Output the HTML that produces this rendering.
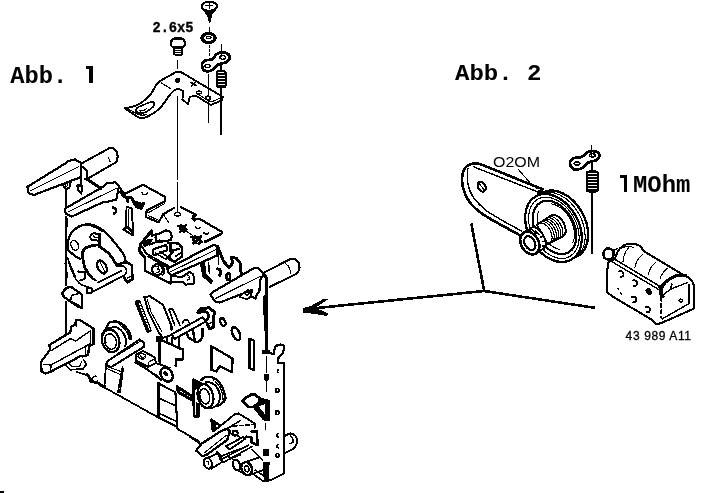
<!DOCTYPE html>
<html>
<head>
<meta charset="utf-8">
<title>Abb. 1 / Abb. 2</title>
<style>
html,body{margin:0;padding:0;background:#fff;}
body{width:709px;height:493px;overflow:hidden;font-family:"Liberation Sans",sans-serif;}
svg{display:block;position:absolute;left:0;top:0;}
.m{font-family:"Liberation Mono",monospace;font-weight:bold;fill:#000;}
.s{font-family:"Liberation Sans",sans-serif;fill:#000;}
g.l{fill:none;stroke:#000;stroke-width:1.7;stroke-linecap:round;stroke-linejoin:round;}
.t{stroke-width:1.1;}
.k{stroke-width:2.2;}
.kk{stroke-width:3;}
.f{fill:#000;}
.w{fill:#fff;}
</style>
</head>
<body>
<svg shape-rendering="crispEdges" width="709" height="493" viewBox="0 0 709 493">
<rect x="0" y="0" width="709" height="493" fill="#fff"/>
<rect x="0" y="491" width="4" height="2" fill="#000"/>
<!-- ===== TEXT ===== -->
<defs><filter id="idf" x="0" y="0" width="709" height="493" filterUnits="userSpaceOnUse"><feOffset dx="0" dy="0"/></filter></defs>
<g id="text" filter="url(#idf)">
<text class="m" x="10.3" y="82.8" font-size="23.8" textLength="57" lengthAdjust="spacingAndGlyphs">Abb.</text>
<path d="M89.4,65.6 H93.2 V82.8 H89.4 Z M85.8,65.6 H89.4 V68.8 H85.8 Z" fill="#000"/>
<text class="m" x="455" y="80" font-size="22.4" textLength="86.5" lengthAdjust="spacingAndGlyphs">Abb. 2</text>
<text class="m" x="152.4" y="31.8" font-size="14.8" textLength="41.2" lengthAdjust="spacingAndGlyphs" stroke="#000" stroke-width="0.35">2.6x5</text>
<text class="m" x="633" y="191.6" font-size="23.4" textLength="57.4" lengthAdjust="spacingAndGlyphs">MOhm</text>
<path d="M623.8,174.8 H627.4 V191.6 H623.8 Z M619.8,174.8 H623.8 V178.2 H619.8 Z" fill="#000"/>
<text class="s" x="493" y="166.6" font-size="14" textLength="47" lengthAdjust="spacingAndGlyphs">O2OM</text>
<text class="s" x="625.6" y="340" font-size="12" textLength="65.4" lengthAdjust="spacing" stroke="#000" stroke-width="0.3">43 989 A11</text>
</g>
<!-- ===== ABB 1 TOP PARTS ===== -->
<g class="l" id="topparts">
<!--TOP_S-->
<!-- top self-tapping screw -->
<ellipse cx="209.3" cy="6.2" rx="7.8" ry="4.6" stroke-width="2.16"/>
<path d="M206,5.5 L212.5,5.5 M209.3,3.5 L209.3,8" stroke-width="1.56"/>
<path d="M201.8,7.5 L206.6,13.5 M216.8,7.5 L212.2,13.5" stroke-width="1.92"/>
<path class="f" d="M206.4,12.5 L212.4,12.5 L211.2,17 L209.7,22.8 L208,17 Z" stroke-width="1.2"/>
<!-- dash between screw and washer -->
<path d="M209.5,27.5 L209.5,32.5" stroke-width="1.44"/>
<!-- washer -->
<ellipse cx="208.6" cy="38" rx="6.6" ry="4.5" stroke-width="3.36"/>
<ellipse cx="208.8" cy="37.6" rx="2.4" ry="1.1" stroke-width="1.2"/>
<!-- dotted below washer -->
<path d="M209.2,45.5 L209.2,60" stroke-width="1.2" stroke-dasharray="2 2.2"/>
<!-- small screw 2.6x5 -->
<path d="M171.2,45.5 C169.8,40.5 173.5,37.6 178,37.6 C182.5,37.6 186,40.5 184.8,45.5 C184,48.3 172,48.3 171.2,45.5 Z" stroke-width="2.16"/>
<path d="M175,39.5 L181,39.5" stroke-width="1.2"/>
<path d="M174.2,48.2 L174.2,54.3 Q178.4,56.6 182.4,54.3 L182.4,48.2" stroke-width="1.92"/>
<path d="M174.2,50.6 L182.4,50.6 M174.2,52.8 L182.4,52.8" stroke-width="1.2"/>
<path d="M177.6,61 L177.6,68" stroke-width="1.56"/>
<!-- solder lug -->
<path d="M202,66.2 C201.2,62.3 205,59.6 209.2,60 C213,60.2 214.2,57.5 215.8,55 C218,52 224,51.4 227.6,53.6 C231,56 230,61 225.6,62.6 C221,63.8 218.2,63.4 216.2,66.2 C214,70 209,72 205.4,71 C203,70.2 202.2,68.2 202,66.2 Z" stroke-width="2.76"/>
<ellipse cx="207.6" cy="66" rx="2.8" ry="1.6" stroke-width="1.32"/>
<ellipse cx="222.6" cy="57.4" rx="2.8" ry="1.8" stroke-width="1.32"/>
<!-- wire through lug -->
<path d="M221.4,44.7 L221.4,56" stroke-width="1.68"/>
<!-- resistor -->
<rect x="217" y="71" width="8.6" height="16.4" rx="2" stroke-width="2"/>
<path class="f" stroke="none" d="M217,73 h9 v2 h-9 Z M217,76 h9 v2 h-9 Z M217,79 h9 v2 h-9 Z M217,82 h9 v2 h-9 Z M217,85 h9 v1.6 h-9 Z"/>
<path d="M221.2,63 L221.2,71.5 M221,87.3 L221,134.5" stroke-width="1.8"/>
<!-- bracket -->
<path d="M176.9,71.6 L159.5,81.2 C155,85 154,89 152.2,92.2 C148,98 143,102 137.5,105 C133,107 128,108 124.7,108.3 L137.5,117 C140,118 144,118 146.7,117 C151,115 156,112 159.5,108.7 C164,104 167,98 170.5,94 C173,91 175,89.5 177.8,88.5 L183.3,91.3 L182.4,99.5 L188,104 L189.8,96.8 L196,95.8 L210.8,105 L221.8,100.4 L222.8,96.8 L181.5,72.4 Z" stroke-width="1.92"/>
<path class="t" d="M128,109 L138.5,114.5 C141,115.3 144,115.3 146.5,114.5"/>
<path class="t" d="M161.3,83 L170.5,88.5"/>
<path class="t" d="M196.5,93.5 L211,102 L222.5,97.2"/>
<path d="M139,106.8 L150,102.2 C154,101 155.6,104 153,107 L146.5,111.8 C142,114 137,113.4 136,111 C135.6,109 137,107.6 139,106.8 Z" stroke-width="1.56"/>
<path class="t" d="M139.5,110.8 C142,111.5 145,110 147,108.2"/>
<circle class="f" cx="177.8" cy="80.3" r="2" stroke-width="1.2"/>
<path d="M191,82.5 L196,85.5 M195.5,82 L191.5,86" stroke-width="2.04"/>
<ellipse cx="199" cy="92.5" rx="2.3" ry="1.5" stroke-width="1.32"/>
<ellipse cx="208" cy="98" rx="2.4" ry="1.9" stroke-width="1.44"/>
<!-- guide lines -->
<path d="M177.7,96.8 L177.7,179 M177.7,182.5 L177.7,211.5" stroke-width="1.56"/>
<path d="M208.2,74.5 L208.2,95 M208.2,101.5 L208.2,123" stroke-width="1.2"/>
<!--TOP_E-->
</g>
<!-- ===== CHASSIS ===== -->
<g class="l" id="chassis">
<!--CH1_S-->
<!-- lever 1 (upper-left) + roller -->
<path d="M82.4,163 L110,147.8 M115.4,162.6 L88.8,178" stroke-width="2"/>
<path d="M110,147.8 C112,147.6 113.4,148.2 114.5,149.3 C116,150.6 117,152 117.3,153.8 C117.7,155.6 117.7,157.6 117.3,159.3 C117,160.6 116.4,161.6 115.4,162.6" stroke-width="2.1"/>
<path class="t" d="M108.1,157.5 C109.2,158.6 110,160 110,161.5"/>
<path d="M27.4,186.8 L65.4,163.4 L68.7,160.8 L75.1,159.5 L81.2,163.1 L81.2,177 L79.3,177.7 L64,183.5 L33.8,195 L28.6,193 Z" stroke-width="2.2"/>
<path class="t" d="M31,190.6 L78.5,166.8"/>
<path d="M62.6,184 L64.4,187.6 L66.8,188.9 L69.4,187.6 L70.8,181.4" stroke-width="1.9"/>
<ellipse cx="66.4" cy="184.6" rx="1.5" ry="1.7" stroke-width="1.2"/>
<path d="M81.2,177 L81.2,185.4 M77.5,185 L77.8,190 L81.2,193.6 L82.4,186.3 Z" stroke-width="2.2"/>
<path d="M82.6,166.6 L84.2,168.6 L87.3,171 L87.3,179 L84.8,179" stroke-width="2"/>
<path d="M87,179.2 L100.8,188.4" stroke-width="2.88"/>
<!-- lever 2 -->
<path d="M65,208.6 L104.4,186 L107.2,183.2 L115.4,182.3 L119,186 L116.2,199.6 L105.3,202.4 L104.4,201.6 L71.6,216.6 L65.6,213.4 Z" stroke-width="2.16"/>
<path class="t" d="M68.6,211.6 L116,188.6"/>
<path d="M66,188.7 L66,208" stroke-width="1.8"/>
<!-- chassis left edge -->
<path d="M65.8,216.6 L65.8,285.5 M65.8,302 L65.8,335.6" stroke-width="1.8"/>
<path d="M66.4,219 L66.4,226" stroke-width="2.88"/>
<!-- top plate 1 -->
<path d="M119.4,187.5 L124.7,194 L143,184.8 L165,196.8 L165,201.3 L146.7,210.5 L145.8,217 L158.6,222.4 L163.2,214.2 L174.2,207.8" stroke-width="2.16"/>
<path class="t" d="M149,212.4 L164.5,203.6 M148.2,215.6 L159.7,220.7"/>
<path class="t" d="M163.2,214.2 L168.7,222.4"/>
<path d="M120.6,191.6 L123.6,196.4 L127,197.4 L128,202" stroke-width="3"/>
<path d="M142,192.6 C143,195.4 146,195.4 147.4,192.8" stroke-width="1.56"/>
<path d="M128,197 L132,198 L133.4,201.6 L136.4,206.4 L141,208.4 L143.4,203.4 M134,202 L141,204" stroke-width="3"/>
<path class="f" d="M133.6,201.6 L139,202.4 L142,205 L140.6,208.6 L136,207 Z" stroke-width="1"/>
<path d="M113,207.6 C116.6,208.2 117.2,212.2 114,213.6" stroke-width="2.6"/>
<!-- slot -->
<path d="M126.5,206.5 L131.8,208.5 L133.3,235.5 L123.4,229.5 L126.4,226.5 Z" stroke-width="1.92"/>
<path d="M123.6,229.6 L127.5,227 L132.6,232.5" stroke-width="2.64"/>
<path class="t" d="M128.6,209.5 L128.9,226"/>
<!-- top plate 2 -->
<path d="M180.6,206.8 L196.2,215 L192.5,218.8 L199.8,219 L222.1,232 L220.9,234.2" stroke-width="2.2"/>
<path d="M220.9,234.2 L205,241.8" stroke-width="2.8"/>
<path d="M193.4,216.6 L194.4,220" stroke-width="3.12"/>
<ellipse cx="177.5" cy="214.3" rx="3" ry="1.7" stroke-width="1.44"/>
<path d="M178.6,226 L186.4,229.4 M186,225 L180,232 M180.6,225.4 L184.4,231.6" stroke-width="2.6"/>
<ellipse class="f" cx="182.6" cy="228.4" rx="3.4" ry="2.8" transform="rotate(25 182.6 228.4)" stroke-width="1"/>
<path d="M195.4,226.8 C196.4,229 199,229 200,227.2 M203.6,232.4 C204.6,234.6 207.2,234.6 208.4,232.8" stroke-width="1.56"/>
<path d="M191.6,237 L201.6,242 M201,236.4 L193.4,243.4 M194.6,236.4 L199.4,243.6" stroke-width="2.6"/>
<ellipse class="f" cx="196.6" cy="239.8" rx="4.6" ry="3.4" transform="rotate(20 196.6 239.8)" stroke-width="1"/>
<path class="w" stroke="none" d="M195,238.6 h1 v1 h-1 Z M198,240.6 h1 v1 h-1 Z M196.6,241.6 h1 v1 h-1 Z"/>
<path class="t" d="M185.4,230.4 L192.6,235.4"/>
<!-- flywheel -->
<path d="M80.4,258.8 C76.5,257.4 73.5,255.2 71,252.6 C68.6,250.4 67.8,250 67.7,249.3 C67,245 67.6,241 69,237.8 C70.4,234 72.6,231 75.3,229 C78,226.6 81.5,225 85.5,224.5 C89,224.2 92.4,224.6 95.6,225.8 C99.5,227.4 102.8,229.8 105.8,232.8 C109.6,236.4 113,240.4 116,244.2 C118.8,247.6 121.4,251 123.5,254.3 C124.6,256.2 125.2,258.4 125.5,260.7" stroke-width="2.28"/>
<path class="t" d="M90.5,225.8 C95,227 99,229 102,231.5"/>
<path d="M91.8,277 C89.5,275.2 87.8,273.2 86.7,270.8 C85,268.4 84,266 83.6,263.2 C83,259.6 82.4,256 82.3,253 C83,251 84,249.4 85.5,248 C88,246.6 90.5,246 93,245.5 C95,245.2 97.2,245 99.4,244.8 L99.4,234 M99.4,246.7 C102.6,248.6 105.6,250.6 108.3,253 C110.8,255.6 112.8,258.6 114.7,262 L117.2,265.8" stroke-width="2.76"/>
<path d="M97.4,234.2 C94,232.4 90.6,233.6 90.2,236.4 C90,238.8 91.6,240.2 93.8,240 L97.8,240.6" stroke-width="2"/>
<path d="M93.6,236 C94.4,237.2 95.6,237.6 97,237.4" stroke-width="1.3"/>
<ellipse cx="74.7" cy="245.3" rx="3.6" ry="5.2" transform="rotate(-22 74.7 245.3)" stroke-width="1.44"/>
<ellipse cx="102" cy="267" rx="4.2" ry="7" transform="rotate(-28 102 267)" stroke-width="2.28"/>
<path class="t" d="M100.4,262.8 L104.6,271"/>
<path d="M67.7,258.2 L75.3,277 M65.2,263.2 L67.7,277" stroke-width="1.56"/>
<!--CH1_E-->
<!--CH2_S-->
<!-- plate 2 right part continues -->
<!-- head block -->
<path d="M151.5,231 L146,237.6 L140.3,244.8 L139.6,251.4 L144.9,257.3" stroke-width="3"/>
<path d="M151.5,231 L152.1,235.5 L156.8,234.2" stroke-width="2.4"/>
<path d="M141.5,246 L146.2,253.4" stroke-width="2"/>
<path class="f" d="M143,244 L148.6,239.4 L152,239.6 L150,242.6 L145.4,246.4 Z" stroke-width="1.4"/>
<!-- cylinder 1 -->
<path class="w" d="M156.1,234.9 L166,230.3 L170,231.6 L171.9,236.2 L170.6,240.2 L158.1,242.1 C155.6,240.4 155.2,237.2 156.1,234.9 Z" stroke-width="2.2"/>
<!-- cylinder 2 -->
<path class="w" d="M153.5,249.4 L166,244.8 L167.3,250 L154.8,255.3 C152.6,254 152.2,251.2 153.5,249.4 Z" stroke-width="2.2"/>
<path d="M149.5,244.8 L159.6,240.4" stroke-width="2"/>
<!-- box -->
<path d="M168,242.8 L178.5,243.5 L181.8,247.4 L181.8,256.6 L174.6,261.9 L167.3,258" stroke-width="2.4"/>
<path d="M170.6,244.8 L170.6,251.4 L178.5,248.8 M173.2,251.4 L168,258" stroke-width="2.4"/>
<path d="M176,256 L180.6,253" stroke-width="1.6"/>
<!-- front face -->
<path d="M146.2,253.4 L170.6,267.2 M148.2,256.6 L168,267.6" stroke-width="1.7"/>
<path d="M144.9,257.3 L144.9,270.5 L170.6,283.7 L171.3,277.1" stroke-width="2.3"/>
<path d="M155,253 L166.6,259.6 M160,252 L171,258.6" stroke-width="1.4"/>
<!-- screw on head -->
<circle cx="157.4" cy="269.6" r="5.4" stroke-width="2.2"/>
<path d="M155.2,266.8 C157.6,265.8 159.6,267.4 157.8,269.2 C160.2,269.8 160,272.6 156.6,272.6" stroke-width="1.5"/>
<path d="M163.2,266.6 C164.8,269.4 164.6,273 162.8,275" stroke-width="1.5"/>
<!-- centre lever -->
<path class="w" d="M167.4,268.8 L213.7,244.7 L216.9,246 L217.5,255.4 L171.8,275.2 L168.2,272.6 Z" stroke-width="2.28"/>
<path class="t" d="M170,272 L216.4,249.4"/>
<!-- tab under head -->
<path d="M170.5,275.8 L182,277 L189.6,272 L193.4,274.5 L194,283.4 L185.8,284.7 L183,281.6 L169.3,282" stroke-width="2.04"/>
<path d="M187.4,275.4 C189.8,275.4 190,277.2 188.4,277.6 C190.2,278 190,280 187.6,280" stroke-width="1.32"/>
<!-- post under centre lever -->
<path class="f" d="M200.6,263.9 L204.4,262.6 L205.7,274 L212,280.4 L211.4,283.6 L203.2,276.6 Z" stroke-width="1.4"/>
<path d="M208.6,263 L209.4,273.6" stroke-width="1.6"/>
<!-- Y tab -->
<path d="M217.6,246.5 L221,255 L223.5,261.3 L229.2,267.7 L233,262.6 L231.1,257.5 L236.2,258.2 L240,262.6 L241.2,274" stroke-width="3"/>
<path d="M218.4,256 L218.6,264" stroke-width="1.6"/>
<path d="M217,269 C220.6,268.6 222,272.6 219.6,275.4" stroke-width="3"/>
<ellipse cx="228.2" cy="276.6" rx="1.8" ry="3.2" stroke-width="2.6"/>
<!-- right lever + roller -->
<path d="M264.8,272.2 L291.2,258.6 M296.6,273.8 L269.5,287" stroke-width="2"/>
<path d="M291.2,258.6 C293,258.4 294.6,258.8 295.9,259.8 C297.6,261 298.8,262.6 299.3,264.5 C299.7,266.4 299.6,268.2 299,269.9 C298.5,271.4 297.8,272.8 296.6,273.8" stroke-width="2.1"/>
<path class="t" d="M285.8,263.7 C287.6,265 289,266.6 289.6,268.4 C290.2,270 290.5,271.6 290.4,273"/>
<path class="w" d="M210.5,294.7 L213.6,291.6 L250.9,269.9 L254.7,267.6 L258.6,268.4 L264,273.8 L260.2,280 L259.4,290.9 L257,294 L255.5,298.6 L250.9,296.3 L252,290 L219.8,302.5 L215.2,301.7 Z" stroke-width="2.16"/>
<path class="t" d="M215.2,298.6 L261,276"/>
<path d="M240,297 L244.7,291.4 M240,297 L247,299.4 L251,296.4" stroke-width="1.68"/>
<ellipse cx="247.6" cy="292.6" rx="1.9" ry="2.6" transform="rotate(20 247.6 292.6)" stroke-width="1.44"/>
<!-- right edge vertical -->
<path d="M264,274.6 L266.6,278.4 L266.8,351" stroke-width="3.2"/>
<path d="M264.6,296 L264.8,330" stroke-width="2.4"/>
<!--CH2_E-->
<!--CH3_S-->
<!-- lines beside flywheel lower-left -->
<path d="M67.7,257.5 C68.6,262 70,266.4 71.5,270.2 C73,274 74.8,277.6 76.6,280.4 C78.6,283 80.8,284.8 83,285.5 L88,286.7" stroke-width="1.56"/>
<path d="M78.5,271.5 L85.5,272.1 C85.6,275 85,277.4 84.2,279.1 L80.4,280.4 M89.3,275.3 C91,277.4 93.2,279.2 95.6,280.4" stroke-width="2.16"/>
<!-- flywheel shaft + bushing -->
<path d="M98.2,282.3 L121,270.9 M90.5,293 L124.2,275.3" stroke-width="1.92"/>
<path d="M86.9,288.2 L91.6,288.2 L91.6,292.8 L86.9,292.8 Z" stroke-width="2.16"/>
<path d="M116,265.2 L126,262 L131.8,265.2 L132.4,279.1 L127.4,282.3 L124.2,277.8" stroke-width="2.64"/>
<path d="M118.5,266.5 C121,265 124.6,266 126,268.6 C127,271 126.4,273.4 125,274.6" stroke-width="1.92"/>
<path d="M127.6,278 L131.6,276" stroke-width="1.68"/>
<path d="M125.5,260.7 L126,262" stroke-width="1.92"/>
<!-- small bracket left -->
<path d="M62,293 L66.4,288 L70.9,286.7 L81.7,294.4 L82.3,307.7 L78.5,307 L70.2,301.3 L63.9,296.9 Z" stroke-width="2.4"/>
<path d="M71.5,295.6 L77.8,293.7 M71.5,295.6 L70.9,300 M72,301.6 L80.4,306.4" stroke-width="1.56"/>
<!-- lever 3 (left-bottom) -->
<path d="M66.5,302 L66.5,334.8" stroke-width="1.8"/>
<path d="M49.4,344.9 L64.9,335.6 L70.3,332.5 L71.1,327 L75,324.7 L76.5,320 L79.7,320 L93.6,328.6 L93.6,344.1 L89,346.5 L88.2,355 L82.8,356.5 L81.2,355.8 L50.2,372 L45.5,373.6 L41.6,371.3 L40.9,362 L50.2,349.6 Z" stroke-width="2.28"/>
<path d="M43.2,364.3 L51,365 L89.7,344 M51.7,350.3 L70.3,338.7 L75.8,341 L89,331.7 M51,365 L50.6,371.6" stroke-width="1.44"/>
<path class="t" d="M76.5,320 L76.5,326 M90.6,330.5 L90.6,343.6 M85.6,347.6 L85.2,354.6"/>
<path d="M65.7,365 L70.3,369.7 L82.8,369 L86.6,364.3 L83.5,359.7" stroke-width="1.8"/>
<path class="t" d="M68.6,362.8 L72,366.4 L80,366 L81.6,361.6"/>
<!-- chassis bottom edge left -->
<path d="M76.5,372 L87.4,375.2" stroke-width="1.68"/>
<path d="M87,374 L89.4,377.4 L90.5,381.4 L98.3,383 L100.6,385.4 L104.5,386" stroke-width="2.64"/>
<!-- pinch roller -->
<path d="M106.9,327 C107.6,325 108.6,323.4 109.6,322.5 C112,321.6 114.4,321.4 116.9,321.6 C119.6,322.4 122,323.8 124.2,325.7 C126.2,327.6 127.8,329.8 129.2,332.1 C130.2,334.4 130.8,336.8 131,339.4" stroke-width="2.4"/>
<path d="M119.6,324.8 C122.6,326.8 125,329.2 126.9,332.1 C128.2,334.4 129,336.8 129.2,339.4" stroke-width="1.2"/>
<path d="M108.7,328.9 C111.6,327.2 114.4,326.8 116.9,327.5 C120,328.8 122.4,331.4 124.2,334.8 C125.6,337.4 126.4,339.8 126.5,342.1 L125.1,345.8" stroke-width="2"/>
<path d="M101.8,334.8 L106.9,327 L108.7,328.9" stroke-width="2"/>
<ellipse cx="110.6" cy="340.8" rx="8.6" ry="11.6" transform="rotate(-16 110.6 340.8)" stroke-width="2.4"/>
<ellipse cx="110.5" cy="341.6" rx="5.8" ry="7.8" transform="rotate(-16 110.5 341.6)" stroke-width="1.5"/>
<path class="t" d="M105.6,339 L105.8,342.4 L107,342.6"/>
<!-- arm from pinch roller -->
<path class="w" d="M143.4,342.2 L139.4,339.5 L107.6,361.2 L106,364.3 L110.7,367.4 L144.4,346.5 Z" stroke-width="2.1"/>
<path class="t" d="M114,357.4 L141,340.8"/>
<path d="M106,364.3 L104.5,386 M123,369 L120,392" stroke-width="1.8"/>
<path class="t" d="M108,367 L122.6,372"/>
<!-- comb -->
<path d="M136.2,302 L147.8,331.4" stroke-width="3.2"/>
<path d="M140,301.4 L151.2,330.4" stroke-width="1.2"/>
<path d="M138.6,302.4 L150,331" stroke-width="2" stroke-dasharray="1 2" stroke-linecap="butt"/>
<path d="M135.4,301.4 L139.2,300.8 M147.4,331.8 L150.6,331" stroke-width="1.6"/>
<!-- blade -->
<path d="M144.4,297 L149.8,296.2 L163,304.7 L171.5,325.7 L171.5,330.3 M144.4,297 L148.3,311.7 L158.4,331.9 L161.5,335.8" stroke-width="2.04"/>
<path class="t" d="M147.5,300 L151,312 L161.5,331"/>
<path d="M168.4,309.4 L172.3,308.6 L175.4,314.8 L180,325.7 M169.2,310.2 L174.6,324.9" stroke-width="1.68"/>
<!-- shaft 2 -->
<path class="w" d="M171.5,334.4 L202.6,317.2 L206,321.4 L174.8,338.8 Z" stroke-width="2"/>
<path d="M157.4,337 L161.6,337 L161.6,341 L157.4,341 Z" stroke-width="2.88"/>
<path d="M161.6,338.4 L171.5,335" stroke-width="1.92"/>
<path d="M198,312.2 L200,309 L208.8,307.8 L214.2,311.7 L213.4,327.2 L209.6,328.8 L207.2,323.4" stroke-width="3"/>
<path d="M199.4,313 C202,310.4 206.6,311 208,313.4 C209,315.6 208.6,318 207.2,319.4" stroke-width="2.6"/>
<path d="M209.6,323.4 L213.2,321.6" stroke-width="1.56"/>
<path d="M182.4,323.4 L184,320.3 L187.8,320.3 L189,322.4" stroke-width="1.68"/>
<path d="M187,333.4 L188.4,337.6 L191.7,339.6 L195,341.6 L198,342 L200.6,340 L202.6,336.5 L202.6,328.8 M193,330.6 L195,341.6" stroke-width="2.4"/>
<!-- bracket under shaft2 -->
<path d="M159.4,338 L160,362.4" stroke-width="3"/>
<path d="M161,340.2 L173.6,345.4 L178.5,348.2 L179.3,338.1 M178.5,348.2 L183.2,349 L183.2,359.4 L176.2,359.4 L175.6,366" stroke-width="2.3"/>
<path d="M167,338 L167.6,343.6 M172,337.6 L172.4,345.6" stroke-width="1.8"/>
<!-- flag -->
<path d="M210.7,345.8 L232.7,358.7 L231.8,372.4 L219.8,366 L216.2,371.5 L210.7,369.7 Z" stroke-width="2.28"/>
<path class="t" d="M212.4,349 L212.4,369.4"/>
<!-- holes -->
<ellipse cx="222.8" cy="322" rx="2.4" ry="4" transform="rotate(-25 222.8 322)" stroke-width="2.3"/>
<ellipse cx="236" cy="333.6" rx="3.4" ry="7" transform="rotate(-25 236 333.6)" stroke-width="2.6"/>
<!-- slot right -->
<path d="M248.6,338.5 L253.8,340.4 L254.4,370.4 L249.2,368 Z" stroke-width="2"/>
<path d="M249.4,340 L249.8,367.4" stroke-width="3"/>
<!--CH3_E-->
<!--CH4_S-->
<!-- right edge: block, hook, dashed -->
<path d="M262.4,350.4 L269.4,350.4 L269.4,353.6 L262.4,353.6 Z" class="f" stroke-width="1.2"/>
<path d="M269.5,352.5 L273.5,354.2 L275.1,347.4 C276.4,345.4 278.6,344.4 280.8,344.6 C283,345 284.2,346 284.2,347.4 L283,353 L278.5,357.6 L278,362.6 L284.2,362.6 L284.2,472.6" stroke-width="2.2"/>
<path d="M266.3,357 L266.3,372" stroke-width="1.44" stroke-dasharray="5 2"/>
<path class="f" d="M264.8,374.4 L268,374.4 L268.2,379.4 L266.4,381 L264.6,379.4 Z" stroke-width="1.68"/>
<path d="M266.3,381 L266.3,391.4" stroke-width="1.44"/>
<path d="M278.6,369.8 C277,370 276.6,372 278,372.6" stroke-width="1.44"/>
<!-- holes along right strip -->
<ellipse cx="277.4" cy="390.4" rx="1.6" ry="2" stroke-width="1.8"/>
<ellipse cx="277.4" cy="412.6" rx="1.6" ry="2" stroke-width="1.8"/>
<path d="M278.4,433.6 C276.4,433.8 276.2,436.4 278,437 M278.4,444.4 C276.4,444.6 276.2,447.2 278,447.8" stroke-width="1.68"/>
<ellipse cx="277.6" cy="455.4" rx="1.5" ry="1.9" stroke-width="1.68"/>
<!-- dashes lower -->
<path d="M265.6,423.4 L265.6,429.6" stroke-width="1.56"/>
<rect class="f" x="263.2" y="449.4" width="5.6" height="5.8" stroke-width="1.2"/>
<path class="f" d="M263.2,462.6 L269,462.6 L268.4,481 L264.4,481 Z" stroke-width="1.2"/>
<!-- ear -->
<path d="M284.6,436 L289.3,433.7 C292,433 294,434 295.5,436 C297,438 297.4,440.6 297,443 C296,446 294.4,448 292.4,449.2 L284.6,453.1" stroke-width="2.04"/>
<path d="M290.9,436 C292.6,437.6 293.4,440 293.2,442.2 L290,443.6" stroke-width="1.32"/>
<!-- triangle -->
<path d="M242.6,401.4 C244,398.6 246.4,397 248.7,396 C250.6,394.6 252.4,394 254.2,394.1 L259.6,398.2 L258.7,403.2 L253.2,406.9 L248.7,406.9 Z" stroke-width="2.8"/>
<path class="f" d="M259.6,398.2 L269.6,400.6 L269.2,420.6 L263.4,419.6 L254.2,407.8 L258.7,403.2 Z" stroke-width="1.6"/>
<path class="w" stroke="none" d="M258.8,406.6 L265.4,403.8 L265.2,414.4 Z"/>
<!-- capstan roller 2 -->
<path d="M201.4,380 C203,378 204.6,377 206,376.8 L211.5,376.8 C215,378 217.6,380 219.7,382.8 C222,386 223.4,389.4 224.2,392.8 L225.6,398.3 C224.6,401 223.4,402.6 221.5,403.8 L217.8,406" stroke-width="2.3"/>
<path d="M215.1,381.9 C218.4,384.6 220.4,387.6 221.5,391 C222.6,394 223,396.8 222.9,399.2" stroke-width="1.2"/>
<path d="M205.5,382.3 C210,381.6 213.6,383.4 216,386.4 C218.6,389.6 220,393 220.1,396.5 C220,400 219,402.8 217.8,404.7 C215,407 211,408.4 208,408.2" stroke-width="2"/>
<path d="M212.6,377.4 L213.6,379.6 M224.4,398.2 L222.8,399" stroke-width="1.8"/>
<ellipse cx="205.5" cy="396" rx="7.6" ry="12.2" transform="rotate(-14 205.5 396)" stroke-width="2.4"/>
<ellipse cx="204.7" cy="396.3" rx="4.8" ry="7.8" transform="rotate(-14 204.7 396.3)" stroke-width="1.5"/>
<!-- bar to roller 2 -->
<path class="f" d="M193.2,379.1 L201,382.8 L196,389 L193.2,391.4 Z" stroke-width="1.44"/>
<path d="M177,386.7 L194,397.6 M178.5,392.2 L193.3,400.7 M177,386.7 L178.5,392.2" stroke-width="3"/>
<path d="M193.6,392 L194,416.2 L198.7,416.2 L198.7,403.8" stroke-width="2.64"/>
<path class="t" d="M196.4,403 L196.4,415"/>
<!-- flag bottom (from ch3) tail, slot bottom -->
<!-- big panel under pinch roller arm -->
<path d="M135,362.4 L158.3,376.4" stroke-width="1.56"/>
<path d="M158.3,383.4 L158.3,417" stroke-width="3.12"/>
<path d="M100.9,385.7 L118,395 L158.3,417.5" stroke-width="1.8"/>
<path d="M122.6,367 L121,374.8 L118,392" stroke-width="1.56"/>
<path class="t" d="M107,368.6 L121,374.8"/>
<path d="M95.8,376.4 C93,376 91.6,378.4 92.6,380.6 C93.6,382.4 96,382.6 97.4,381.4" stroke-width="1.8"/>
<!-- box right of panel -->
<path d="M158.3,383.4 L174.6,391.9 L176.1,396.5 L176.9,426.6 L158.3,417.5" stroke-width="2.04"/>
<path d="M160.6,398.9 L176.1,405.9 M159.8,413.6 L176.3,421.4" stroke-width="1.56"/>
<!-- cylinder end near panel -->
<path class="w" d="M135.5,354.8 L143.2,351 L154.6,357.3 L155.9,363 L148.2,366.8 L135.5,360.5 Z" stroke-width="2"/>
<ellipse cx="141.9" cy="356.3" rx="3.8" ry="2.7" transform="rotate(12 141.9 356.3)" stroke-width="1.3"/>
<path d="M140.4,356 C141.4,357.6 143.6,357.8 144.6,356.6" stroke-width="1.1"/>
<path class="t" d="M148.2,366.8 L148.8,362 L155.4,358.6"/>
<path d="M155.9,363 L169.6,368 M138,362.4 L161.4,380.2" stroke-width="2"/>
<ellipse class="w" cx="166.6" cy="374.6" rx="5.6" ry="7.6" transform="rotate(-32 166.6 374.6)" stroke-width="2.4"/>
<ellipse class="f" cx="165.6" cy="373.6" rx="1.3" ry="2.4" transform="rotate(-32 165.6 373.6)" stroke-width="1.2"/>
<!-- bottom-left panel lines -->
<path d="M176.2,393.7 L177,428.6 L199.4,441.6" stroke-width="1.8"/>
<!-- lever bottom-right -->
<path d="M211.4,419.6 L220.5,425.8 L212.8,431.4 Z" stroke-width="2.2"/>
<path class="f" d="M211.4,419.6 L216,424.6 L214.4,430.6 L212.8,431.4 Z" stroke-width="1.4"/>
<path class="w" d="M196.2,450.6 L201.3,443.9 L220.5,431.4 L227.2,428.6 L229.8,431.4 L227.2,439.9 L206.9,454.6 L202.4,456.3 Z" stroke-width="2.3"/>
<path class="t" d="M204,453.2 L226.1,435.4"/>
<path d="M190,437.1 L200.7,443.9" stroke-width="1.8"/>
<path d="M220.5,425.8 L235.1,414 L238.5,413.4 L254.9,423.5 L254.6,428" stroke-width="1.9"/>
<path d="M227.2,428.6 L240,420.8" stroke-width="1.6"/>
<path d="M232.9,426 L253.2,424.7" stroke-width="1.5" stroke-dasharray="4 2.4"/>
<circle cx="235.1" cy="433.1" r="2.6" stroke-width="2"/>
<path d="M226.1,446.1 L243,437.1 L245.3,438.8 L229.5,449.5 Z" stroke-width="1.9"/>
<path d="M251.5,431.4 L256.6,431.4 L257.7,445 L251.5,442.7 L251.5,437.4 L246.4,436.6" stroke-width="2.5"/>
<path d="M217.1,451.8 L220.5,459.7 L248.7,445 M229.8,433 L238,436 L241,438.4" stroke-width="1.7"/>
<!-- cylinders at bottom -->
<ellipse cx="207.8" cy="463.2" rx="3.9" ry="5.5" transform="rotate(-20 207.8 463.2)" stroke-width="2.16"/>
<path d="M206.6,461.4 C208.4,461 209.4,463.4 208,465" stroke-width="1.2"/>
<path d="M208.6,457.4 L218.7,453 M211.7,468.6 L222.6,461.6 M218.7,453 C220.6,455.4 221.8,458.6 222.6,461.6" stroke-width="1.8"/>
<path d="M221,456.2 L241.2,448.4 M224,462 L252,446.6" stroke-width="1.68"/>
<ellipse cx="246.6" cy="468.6" rx="5.2" ry="6.6" transform="rotate(-20 246.6 468.6)" stroke-width="2.4"/>
<ellipse cx="246.8" cy="468.8" rx="2.2" ry="3" transform="rotate(-20 246.8 468.8)" stroke-width="1.68"/>
<path d="M244.6,462.4 L258.3,457.8 M250,474.8 L262.9,470.2" stroke-width="1.8"/>
<ellipse cx="236.5" cy="465" rx="3.4" ry="5.4" transform="rotate(-20 236.5 465)" stroke-width="2.04"/>
<path d="M234,460 L228,456.4 M238,470.4 L244,473.6 M230,459 L240,455" stroke-width="1.68"/>
<path d="M252,473.3 L263,481 L270.7,480.3 L283.9,473.3 M255.2,470.2 L262.4,475" stroke-width="1.8"/>
<path d="M252,449.6 L262.6,460" stroke-width="1.56"/>
<!--CH4_E-->
<!--CHASSIS-->
</g>
<!-- ===== ARROW ===== -->
<g class="l" id="arrow">
<!--ARROW_S-->
<path d="M310,308.7 L484.2,291 L595.3,307.9 M471.3,223.5 L484.2,291" stroke-width="2.6" stroke-linecap="butt"/>
<path class="f" stroke="none" d="M303,308.2 L311,305.8 L324,298.6 L328.6,298.8 L316.4,307 L319,309.4 L327.8,313.2 L327.2,316 L314,313.8 L303,312.6 Z"/>
<!--ARROW_E-->
</g>
<!-- ===== ABB 2 ===== -->
<g class="l" id="abb2">
<!--ABB2_S-->
<!-- belt -->
<path d="M542.6,189.3 L480.4,164.1 C477,163 474,163 471.5,163.9 C468,165 465.5,167 464.5,169 C462.5,172.5 461.8,176 462,180.4 C462.3,186 463.5,190.5 465.2,194.4 C467.5,199.5 471,204.5 475.3,208.3 C480,212.5 486,216.5 493,220.5 L519.8,235.2" stroke-width="2.64"/>
<path d="M537.5,191.8 L474,167 M467.9,168.5 C467,173 467.2,178 467.7,183 C468.6,188.5 470.8,193.5 474,198.2 C477.5,203 482,207.2 486.7,210.9 C492,214.6 500,219.5 521.5,231" stroke-width="1.44"/>
<ellipse cx="481.7" cy="186.7" rx="3.6" ry="5.2" transform="rotate(-28 481.7 186.7)" stroke-width="2.16"/>
<path class="t" d="M479.5,184 L484,189.5"/>
<path class="f" d="M536.6,191.4 L541,190 L545,191.8 L541.6,195 L538,194.6 Z" stroke-width="1"/>
<!-- leader -->
<path class="t" d="M518.5,169.6 L531.2,184.2 L536.5,188.2"/>
<!-- pulley -->
<g transform="translate(553.5,228) rotate(-29.2)">
<ellipse cx="7.2" cy="0" rx="25.3" ry="36.3" stroke-width="2.4"/>
<ellipse class="w" cx="3.8" cy="0" rx="25.3" ry="36.3" stroke-width="1.1"/>
<ellipse class="w" cx="0" cy="0" rx="25.3" ry="36.3" stroke-width="2.3"/>
<ellipse cx="0.4" cy="0" rx="22.4" ry="32.8" stroke-width="1.1"/>
<ellipse cx="1.2" cy="0" rx="19.2" ry="28.6" stroke-width="2.2"/>
<path d="M-11,-22 A16.4 25.4 0 0 0 -11,22" transform="translate(6,0)" stroke-width="1.1"/>
<path d="M8,-22 A15 24 0 0 1 8,22" transform="translate(2,0)" stroke-width="1.1"/>
<!-- hub -->
<path class="w" d="M-13,-11 L4,-12 A7.5 12 0 0 1 4,12 L-13,11 Z" stroke-width="2"/>
<path d="M-10.6,-11.1 A6.6 11.1 0 0 1 -10.6,11.1 M-8.2,-11.3 A6.6 11.3 0 0 1 -8.2,11.3 M-5.8,-11.4 A6.6 11.4 0 0 1 -5.8,11.4 M-3.4,-11.6 A6.6 11.6 0 0 1 -3.4,11.6 M-1,-11.7 A6.6 11.7 0 0 1 -1,11.7 M1.4,-11.8 A6.6 11.8 0 0 1 1.4,11.8" stroke-width="1.1"/>
<!-- pinion -->
<path class="w" d="M-28,-10.4 L-18.5,-10.8 A6 12 0 0 1 -18.5,13.2 L-28,13.6 Z" stroke-width="2"/>
<path d="M-24.6,-10.4 L-22.6,-5.4 M-22.4,-10.6 L-20.2,-5 M-20,-10 L-17.8,-3.6 M-17.4,-6.4 L-15.4,-1 M-15.8,1.6 L-13.4,2.4 M-16.4,6.4 L-14,7.4 M-18,10.6 L-15.6,11.6 M-20,13 L-18.4,15" stroke-width="1.5"/>
<ellipse class="w" cx="-28" cy="1.6" rx="8.8" ry="12" stroke-width="2.6"/>
<ellipse cx="-28" cy="1.6" rx="5" ry="7.4" stroke-width="2.2"/>
</g>
<!-- lug 2 -->
<path d="M570,163.5 C569.5,160 573,157.6 577.5,157.6 C582,157.8 584,156 585.6,153.5 C587.5,151 593,150.2 597,152 C600.5,154 600,158.8 596,160.4 C591.5,161.8 588,161.6 586,164.2 C584,168 578,170.6 573.8,169.2 C571.2,168.2 570.2,166 570,163.5 Z" stroke-width="2.76"/>
<ellipse cx="577" cy="163.6" rx="3" ry="1.6" stroke-width="1.32"/>
<ellipse cx="592.4" cy="155.4" rx="2.8" ry="1.7" stroke-width="1.32"/>
<path d="M591.6,146 L591.6,155" stroke-width="1.68"/>
<path d="M591.8,162 L591.8,171.5" stroke-width="1.8"/>
<!-- resistor 2 -->
<rect x="586.6" y="171.5" width="11.4" height="20" rx="2.4" stroke-width="2.04"/>
<path class="f" stroke="none" d="M587,174 h11 v2 h-11 Z M587,177 h11 v2 h-11 Z M587,180 h11 v2 h-11 Z M587,183 h11 v2 h-11 Z M587,186 h11 v2 h-11 Z M587,189 h11 v1.6 h-11 Z"/>
<path d="M592,191.5 L592,253.3" stroke-width="1.92"/>
<!-- motor -->
<path d="M603.4,254 C603.4,250 606,248.2 609,248.4 C612,248.8 613.8,251 613.6,254.4 C613.4,257.6 611,259.8 608,259.6 C605,259.2 603.4,257 603.4,254 Z" stroke-width="2.4"/>
<path d="M613,250.5 L617.5,248.6" stroke-width="1.56"/>
<path d="M608.3,262.6 L606.6,275.8 L607.4,292.3 L612,296.2 L652.3,320 L656,324 L660.5,323.4 L693.6,308.8 L694,286 C693.2,281 689,277 683.5,275 L643.4,251 C642,246.5 637,243.6 630.3,243.6 C624.5,244 620.5,247 618,251 L614.8,258.8 Z" stroke-width="2.04"/>
<path d="M614.8,259.3 L659.7,286.2 M612.5,262 L659.5,290" stroke-width="1.44"/>
<path d="M663,296.6 C661,294 660.6,291.6 661.1,289.3 C662,286 663.6,283.6 665.7,282 C669,279 672.6,277 676.6,275.6 L685.8,275.6" stroke-width="3.2"/>
<path d="M659.7,286 L661.2,296" stroke-width="2.88"/>
<path d="M661.1,297 L661.1,318" stroke-width="1.32" stroke-dasharray="4 2.4"/>
<path d="M662.4,318.8 L689,303.6 L689,285" stroke-width="1.44"/>
<path d="M664,294 L671,289 L687.4,282.6 M670,290 L672,284" stroke-width="1.44"/>
<path class="t" d="M628.5,248 C625,251.5 623.5,256 623,261.5 M642.5,254.5 C638,258 635.5,263 634.8,268 M656,262 C651.5,265.5 649,270 648.2,275 M667,268.6 C663.5,271.5 661,275.5 660,279"/>
<path class="t" d="M621,248.5 C624,246.6 629,246 633.5,247.4"/>
<ellipse class="f" cx="648.7" cy="291.6" rx="2.2" ry="3.2" transform="rotate(-35 648.7 291.6)" stroke-width="1.2"/>
<path d="M619.2,271.4 C621.6,270.6 623.6,272.2 623.6,274.2 C623.6,276.0 622.2,277.0 620.4,276.8 M632.9,280.5 C635.3,279.7 637.3,281.3 637.3,283.3 C637.3,285.1 635.9,286.1 634.1,285.9 M632.0,296.9 C634.4,296.1 636.4,297.7 636.4,299.7 C636.4,301.5 635.0,302.5 633.2,302.3 M645.6,306.9 C648.0,306.1 650.0,307.7 650.0,309.7 C650.0,311.5 648.6,312.5 646.8,312.3" stroke-width="1.9"/>
<path d="M617.6,288.4 L618.6,289.6 M620.6,293.2 L621.4,294" stroke-width="1.56"/>
<ellipse cx="680.8" cy="300.6" rx="1.8" ry="1.5" stroke-width="1.44"/>
<!--ABB2_E-->
</g>
</svg>
</body>
</html>
